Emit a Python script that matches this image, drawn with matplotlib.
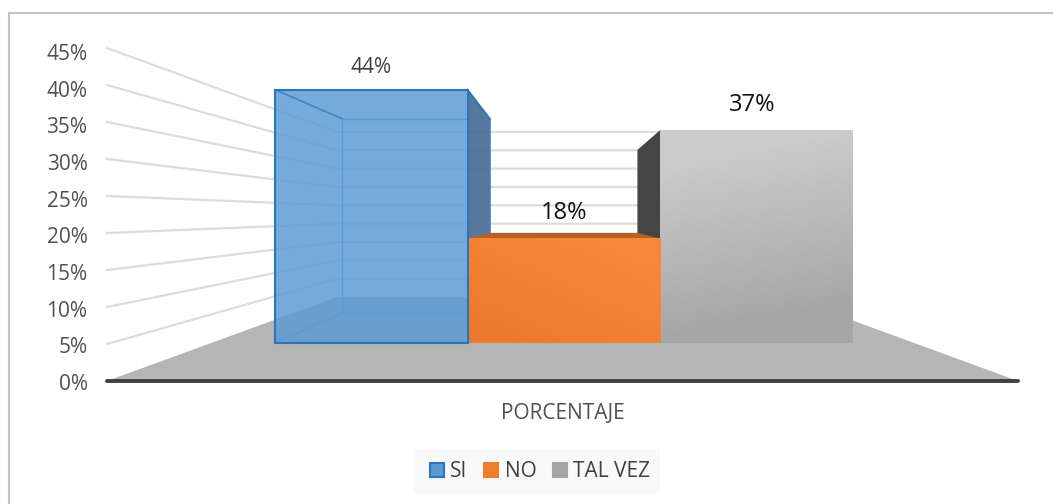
import numpy as np
import matplotlib
matplotlib.use("Agg")
import matplotlib.pyplot as plt
from matplotlib.colors import LinearSegmentedColormap
from matplotlib.lines import Line2D
from matplotlib.patches import Patch, Polygon, Rectangle
from matplotlib.transforms import ScaledTranslation

categories = ["SI", "NO", "TAL VEZ"]
values = [44.4, 18.3, 37.3]
y_ticks = [0, 5, 10, 15, 20, 25, 30, 35, 40, 45]
x_label = "PORCENTAJE"

plt.rcParams["font.family"] = ["Open Sans", "DejaVu Sans"]

# fake 3D: everything is pulled towards a vanishing point by a depth scale
VP_X, VP_Y = 1.497, 22.5
WALL, BAR_FRONT, BAR_BACK = 0.496, 0.77, 0.59
X_MIN, X_MAX = -0.328, 3.316


def proj(x, y, s):
    return VP_X + (x - VP_X) * s, VP_Y + (y - VP_Y) * s


def face(ax, pts, **kw):
    ax.add_patch(Polygon(pts, closed=True, clip_on=False, **kw))


def edge(ax, p, q, **kw):
    ax.plot([p[0], q[0]], [p[1], q[1]], clip_on=False, **kw)


def gradient(ax, extent, colors, z, slant=0.3):
    cmap = LinearSegmentedColormap.from_list("g", colors)
    xx, yy = np.meshgrid(np.linspace(0, 1, 64), np.linspace(0, 1, 64))
    ax.imshow((1 - slant) * yy + slant * xx, cmap=cmap, extent=extent, origin="lower",
              aspect="auto", vmin=0, vmax=1, zorder=z, clip_on=False)


W, H = 1053, 504
fig = plt.figure(figsize=(W / 100, H / 100), dpi=100)
ax = fig.add_axes([107 / W, (H - 381) / H, 911 / W, 333 / H])
ax.patch.set_visible(False)

# chart border, only left and top are inside the crop
fig.add_artist(Line2D([8.5 / W, 8.5 / W, 1], [0, (H - 13) / H, (H - 13) / H], transform=fig.transFigure,
                      color="#c4c4c4", linewidth=1.5))

# walls
for v in y_ticks[1:]:
    x0, y0 = proj(X_MIN, v, WALL)
    x1, y1 = proj(X_MAX, v, WALL)
    ax.plot([X_MIN, x0, x1], [v, y0, y1], color="#dcdcdc", linewidth=1.6, clip_on=False, zorder=1)

# floor
face(ax, [proj(X_MIN, 0, 1), proj(X_MAX, 0, 1), proj(X_MAX, 0, WALL), proj(X_MIN, 0, WALL)],
     facecolor="#b5b5b5", edgecolor="none", zorder=2)
ax.plot([X_MIN, X_MAX], [0, 0], color="#404040", linewidth=2.8, solid_capstyle="round", clip_on=False, zorder=3)

# TAL VEZ
i = 2
face(ax, [proj(i, 0, BAR_FRONT), proj(i, values[i], BAR_FRONT), proj(i, values[i], BAR_BACK), proj(i, 0, BAR_BACK)],
     facecolor="#454545", edgecolor="none", zorder=4)
x0, y0 = proj(i, 0, BAR_FRONT)
x1, y1 = proj(i + 1, values[i], BAR_FRONT)
gradient(ax, (x0, x1, y0, y1), ["#a6a6a6", "#cbcbcb"], 5, slant=-0.2)

# NO
i = 1
face(ax, [proj(i, values[i], BAR_FRONT), proj(i + 1, values[i], BAR_FRONT),
          proj(i + 1, values[i], BAR_BACK), proj(i, values[i], BAR_BACK)],
     facecolor="#b55f22", edgecolor="none", zorder=6)
x0, y0 = proj(i, 0, BAR_FRONT)
x1, y1 = proj(i + 1, values[i], BAR_FRONT)
gradient(ax, (x0, x1, y0, y1), ["#ea792d", "#fb8a3e"], 7, slant=0.45)

# SI, see-through box
i = 0
v = values[i]
fl, ft, fr, frb = proj(i, 0, BAR_FRONT), proj(i, v, BAR_FRONT), proj(i + 1, v, BAR_FRONT), proj(i + 1, 0, BAR_FRONT)
bl, bt, br, brb = proj(i, 0, BAR_BACK), proj(i, v, BAR_BACK), proj(i + 1, v, BAR_BACK), proj(i + 1, 0, BAR_BACK)
face(ax, [fr, br, brb, frb], facecolor="#4f7299", alpha=0.96, edgecolor="none", zorder=5)
edge(ax, br, brb, color="#3f7fbf", linewidth=1.2, zorder=5)
edge(ax, fr, br, color="#2e75b6", linewidth=1.3, zorder=5)
face(ax, [fl, ft, fr, frb], facecolor="#5b9bd5", alpha=0.84, edgecolor="none", zorder=8)
# back edges stop at the front face, the rest is behind NO or already drawn
edge(ax, bl, bt, color="#5b9bd5", linewidth=1.0, zorder=9)
edge(ax, bt, (fr[0], bt[1]), color="#5b9bd5", linewidth=1.0, zorder=9)
edge(ax, bl, (fr[0], bl[1]), color="#5b9bd5", linewidth=1.0, zorder=9)
edge(ax, fl, bl, color="#5b9bd5", linewidth=1.0, zorder=9)
edge(ax, ft, bt, color="#3f86c8", linewidth=1.2, zorder=9)
face(ax, [fl, ft, fr, frb], facecolor="none", edgecolor="#2e75b6", linewidth=1.5, zorder=10)

# labels above the bars, 37% sits a little left of its bar centre
label_colors = ["#404040", "#111111", "#111111"]
label_sizes = [15, 17, 17]
label_dx = [0.0, 0.0, -0.016]
label_offsets = [3.0, 3.4, 3.4]
for i, v in enumerate(values):
    x, y = proj(i + 0.5, v, BAR_FRONT)
    ax.text(x + label_dx[i], y + label_offsets[i], f"{v:.0f}%", ha="center", va="center",
            fontsize=label_sizes[i], color=label_colors[i], zorder=11)

ax.set_xlim(X_MIN, X_MAX)
ax.set_ylim(0, 45)
ax.set_xticks([VP_X])
ax.set_xticklabels([x_label], fontsize=15, color="#505050")
ax.set_yticks(y_ticks)
ax.set_yticklabels([f"{t}%" for t in y_ticks], fontsize=15, color="#505050")
ax.tick_params(axis="both", length=0)
ax.tick_params(axis="y", pad=14)
ax.tick_params(axis="x", pad=16)
# labels drift down against their gridlines towards the top of the axis
for t, lab in zip(y_ticks, ax.get_yticklabels()):
    lab.set_transform(lab.get_transform() + ScaledTranslation(0, -(1 + 3 * t / 45) / 100, fig.dpi_scale_trans))
for sp in ax.spines.values():
    sp.set_visible(False)

colors = ["#5b9bd5", "#ed7d31", "#a5a5a5"]
edges = ["#2e75b6", "#ed7d31", "#a5a5a5"]
fig.add_artist(Rectangle((413 / W, (H - 494) / H), 247 / W, 45 / H, transform=fig.transFigure,
                         facecolor="#f9f9f9", edgecolor="none"))
handles = [Patch(facecolor=c, edgecolor=e, linewidth=1.5, label=n) for c, e, n in zip(colors, edges, categories)]
leg = fig.legend(handles=handles, loc="center", bbox_to_anchor=(540 / W, (H - 471.5) / H), ncol=3, frameon=False,
                 fontsize=15, labelcolor="#404040", handlelength=0.68, handleheight=0.68, handletextpad=0.3,
                 columnspacing=0.8)
leg.set_zorder(5)

fig.savefig("out.png", dpi=100, facecolor="white")
